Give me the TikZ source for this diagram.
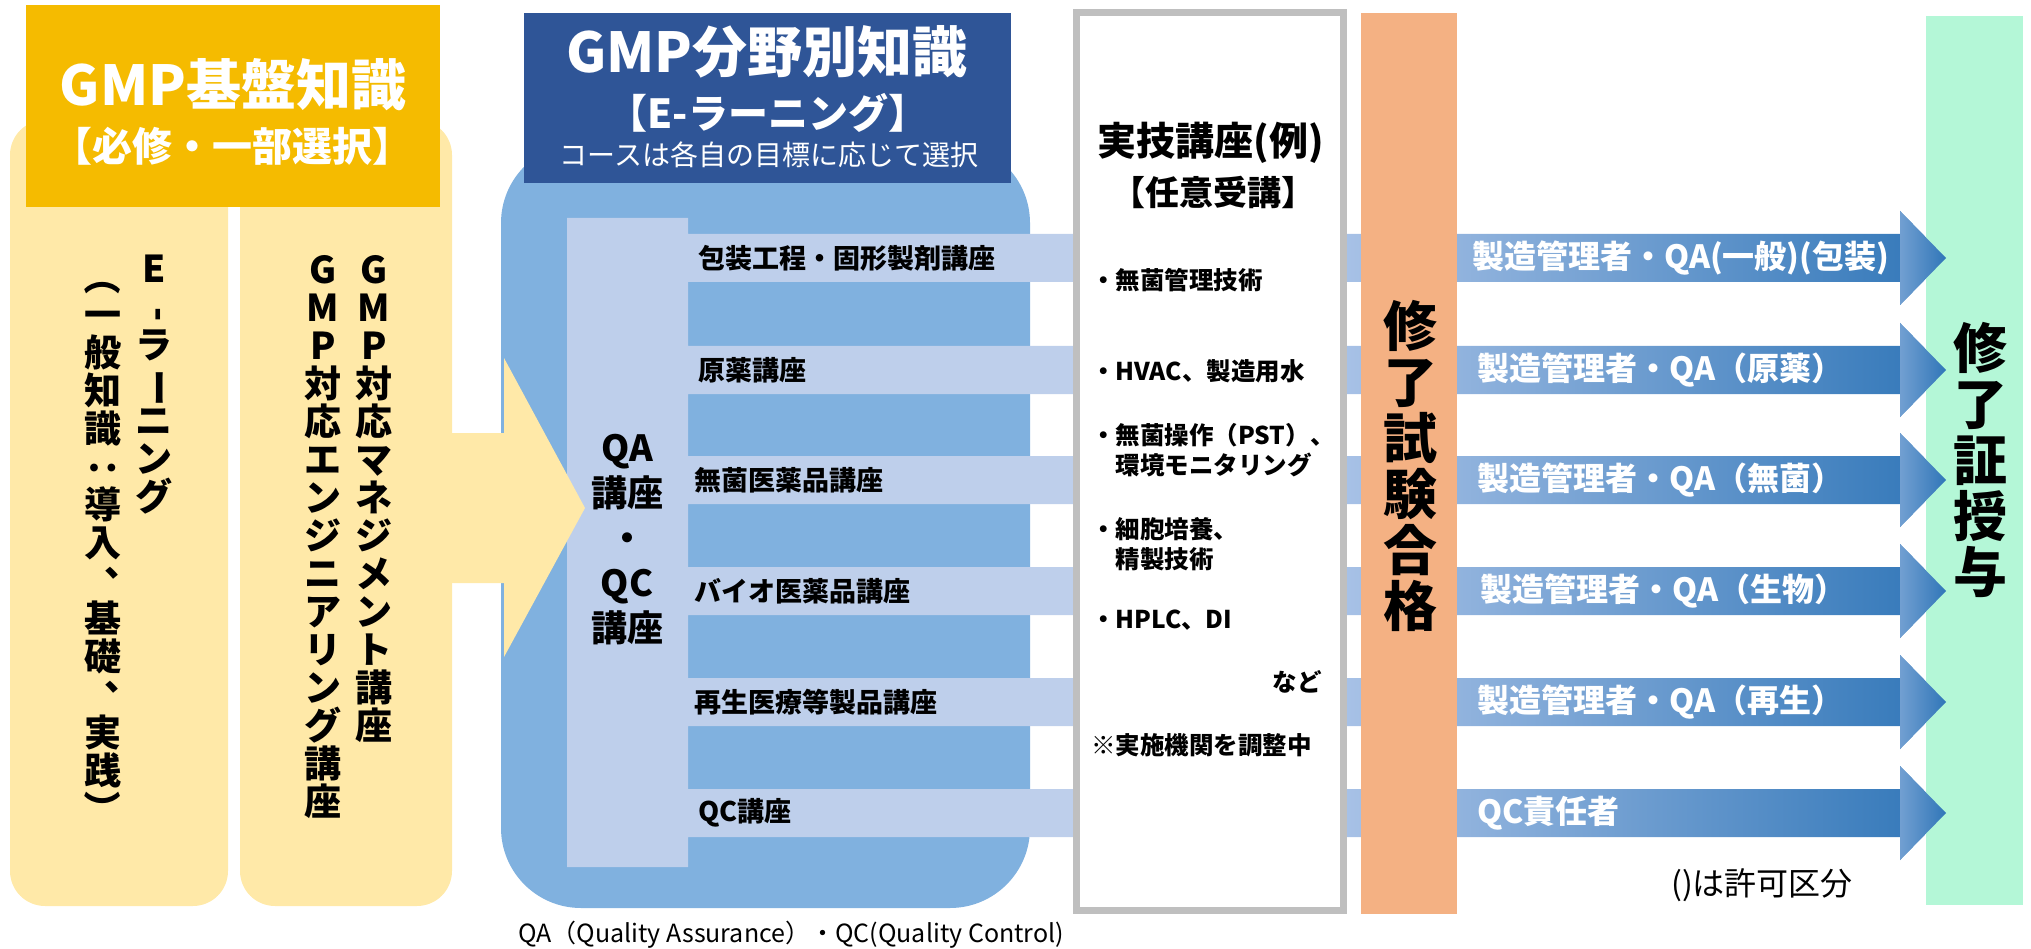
\documentclass[tikz,border=0pt]{standalone}
\usepackage{fontspec}
\setmainfont{Noto Sans CJK JP}
\usepackage{graphicx}
\usetikzlibrary{positioning}

\definecolor{kibanhead}{RGB}{245,187,0}
\definecolor{kibanbox}{RGB}{255,233,168}
\definecolor{bunyahead}{RGB}{47,85,151}
\definecolor{bunyabox}{RGB}{128,177,223}
\definecolor{kozaband}{RGB}{190,207,235}
\definecolor{jitsugiline}{RGB}{191,191,191}
\definecolor{goukaku}{RGB}{244,177,131}
\definecolor{shouyo}{RGB}{180,247,215}
\definecolor{armlight}{RGB}{167,193,230}
\definecolor{armdark}{RGB}{48,118,184}

\newcommand{\tatechar}[1]{\rotatebox[origin = c]{-90}{#1}}
\newcommand{\tatecomma}{\makebox[1em][l]{\hspace{0.55em}\raisebox{0.5em}{、}}}

\begin{document}
\begin{tikzpicture}[x = 1pt, y = -1pt,
        tate/.style = {align = center, inner sep = 0pt, anchor = north,
            font = {\fontsize{37}{38}\selectfont\bfseries\lineskiplimit=-100pt}},
        kozatext/.style = {anchor = west, inner sep = 0pt,
            font = \fontsize{27}{30}\selectfont\bfseries},
        jitsugi/.style = {anchor = west, inner sep = 0pt,
            font = \fontsize{24.5}{30}\selectfont\bfseries},
        armtext/.style = {anchor = west, inner sep = 0pt, text = white,
            font = \fontsize{32}{34}\selectfont\bfseries},
        bigtate/.style = {align = center, inner sep = 0pt,
            font = {\fontsize{54}{56}\selectfont\bfseries\lineskiplimit=-100pt}}]
        \useasboundingbox (0, 0) rectangle (2031, 949);

        % GMP kiban
        \fill [kibanbox, rounded corners = 35pt]
            (10, 120) rectangle (228, 906)
            (240, 120) rectangle (452, 906)
        ;
        \fill [kibanhead] (26, 5) rectangle (440, 207);

        % GMP bunya
        \fill [bunyabox, rounded corners = 80pt] (501, 143) rectangle (1030, 908);
        \fill [bunyahead] (524, 13) rectangle (1011, 183);
        \fill [kozaband]
            (567, 218) rectangle (688, 867)
            (688, 234) rectangle (1347, 282)
            (688, 346) rectangle (1347, 394)
            (688, 456) rectangle (1347, 504)
            (688, 567) rectangle (1347, 615)
            (688, 678) rectangle (1347, 726)
            (688, 789) rectangle (1347, 837)
        ;

        \fill [kibanbox]
            (440, 433) -- (504, 433) -- (504, 358) -- (585, 508)
            -- (504, 657) -- (504, 583) -- (440, 583) -- cycle
        ;

        % result arrows
        \shade [left color = armlight, right color = armdark]
            (1347, 234) -- (1900, 234) -- (1900, 211) -- (1946, 258) -- (1900, 305) -- (1900, 282) -- (1347, 282) -- cycle
            (1347, 346) -- (1900, 346) -- (1900, 323) -- (1946, 370) -- (1900, 417) -- (1900, 394) -- (1347, 394) -- cycle
            (1347, 456) -- (1900, 456) -- (1900, 433) -- (1946, 480) -- (1900, 527) -- (1900, 504) -- (1347, 504) -- cycle
            (1347, 567) -- (1900, 567) -- (1900, 544) -- (1946, 591) -- (1900, 638) -- (1900, 615) -- (1347, 615) -- cycle
            (1347, 678) -- (1900, 678) -- (1900, 655) -- (1946, 702) -- (1900, 749) -- (1900, 726) -- (1347, 726) -- cycle
            (1347, 789) -- (1900, 789) -- (1900, 766) -- (1946, 813) -- (1900, 860) -- (1900, 837) -- (1347, 837) -- cycle
        ;

        \draw [jitsugiline, fill = white, line width = 7pt] (1076.5, 12.5) rectangle (1343.5, 910.5);
        \fill [goukaku] (1361, 13) rectangle (1457, 914);
        \fill [shouyo] (1926, 16) rectangle (2023, 905);
        \shade [left color = armlight!55!armdark, right color = armdark]
            (1900, 211) -- (1946, 258) -- (1900, 305) -- cycle
            (1900, 323) -- (1946, 370) -- (1900, 417) -- cycle
            (1900, 433) -- (1946, 480) -- (1900, 527) -- cycle
            (1900, 544) -- (1946, 591) -- (1900, 638) -- cycle
            (1900, 655) -- (1946, 702) -- (1900, 749) -- cycle
            (1900, 766) -- (1946, 813) -- (1900, 860) -- cycle
        ;

        % texts
        \node [text = white, font = \fontsize{55}{60}\selectfont\bfseries] (kiban) at (233, 85) {GMP基盤知識};
        \node [text = white, font = \fontsize{40}{44}\selectfont\bfseries] (hisshu) at (232, 146) {【必修・一部選択】};
        \node [tate] (elearn) at (154, 255) {E\\\tatechar{-}\\ラ\\\tatechar{ー}\\ニ\\ン\\グ};
        \node [tate] (ippan) at (103, 258) {\tatechar{（}\\一\\般\\知\\識\\\tatechar{：}\\導\\入\\\tatecomma\\基\\礎\\\tatecomma\\実\\践\\\tatechar{）}};
        \node [tate] (manage) at (374, 255) {G\\M\\P\\対\\応\\マ\\ネ\\ジ\\メ\\ン\\ト\\講\\座};
        \node [tate] (engi) at (323, 255) {G\\M\\P\\対\\応\\エ\\ン\\ジ\\ニ\\ア\\リ\\ン\\グ\\講\\座};

        \node [text = white, font = \fontsize{55}{60}\selectfont\bfseries] (bunya) at (767, 52) {GMP分野別知識};
        \node [text = white, font = \fontsize{40}{44}\selectfont\bfseries] (elearning) at (768, 113) {【E-ラーニング】};
        \node [text = white, font = \fontsize{28}{30}\selectfont] (course) at (769, 155) {コースは各自の目標に応じて選択};
        \node [align = center, inner sep = 0pt, font = \fontsize{36}{45}\selectfont\bfseries] (qaqc) at (627, 540) {QA\\講座\\・\\QC\\講座};

        \node [kozatext] (housou) at (698, 258) {包装工程・固形製剤講座};
        \node [kozatext] (genyaku) at (698, 370) {原薬講座};
        \node [kozatext] (mukin) at (694, 480) {無菌医薬品講座};
        \node [kozatext] (bio) at (694, 591) {バイオ医薬品講座};
        \node [kozatext] (saisei) at (694, 702) {再生医療等製品講座};
        \node [kozatext] (qc) at (698, 813) {QC講座};

        \node [font = \fontsize{39}{42}\selectfont\bfseries] (jitsugi) at (1211, 143) {実技講座(例)};
        \node [font = \fontsize{34}{38}\selectfont\bfseries] (nini) at (1213, 192) {【任意受講】};
        \node [jitsugi] (kanri) at (1091, 280) {・無菌管理技術};
        \node [jitsugi] (hvac) at (1091, 371) {・HVAC、製造用水};
        \node [jitsugi, align = left] (sousa) at (1091, 450) {・無菌操作（PST）、\\\phantom{・}環境モニタリング};
        \node [jitsugi, align = left] (saibou) at (1091, 544) {・細胞培養、\\\phantom{・}精製技術};
        \node [jitsugi] (hplc) at (1091, 620) {・HPLC、DI};
        \node [jitsugi, anchor = east] (nado) at (1322, 682) {など};
        \node [jitsugi] (chousei) at (1091, 745) {※実施機関を調整中};

        \node [bigtate] (shiken) at (1410, 466) {修\\了\\試\\験\\合\\格};
        \node [bigtate] (shuuryou) at (1980, 460) {修\\了\\証\\授\\与};

        \node [armtext] (ippanarm) at (1472, 258) {製造管理者・QA(一般)(包装)};
        \node [armtext] (genyakuarm) at (1477, 370) {製造管理者・QA（原薬）};
        \node [armtext] (mukinarm) at (1477, 480) {製造管理者・QA（無菌）};
        \node [armtext] (seibutsuarm) at (1480, 591) {製造管理者・QA（生物）};
        \node [armtext] (saiseiarm) at (1477, 702) {製造管理者・QA（再生）};
        \node [armtext] (qcarm) at (1477, 813) {QC責任者};

        \node [anchor = west, inner sep = 0pt, font = \fontsize{32}{34}\selectfont] (kubun) at (1671, 885) {()は許可区分};
        \node [anchor = west, inner sep = 0pt, font = \fontsize{25}{28}\selectfont] (qanote) at (518, 935) {QA（Quality Assurance）・QC(Quality Control)};
    \end{tikzpicture}
\end{document}
